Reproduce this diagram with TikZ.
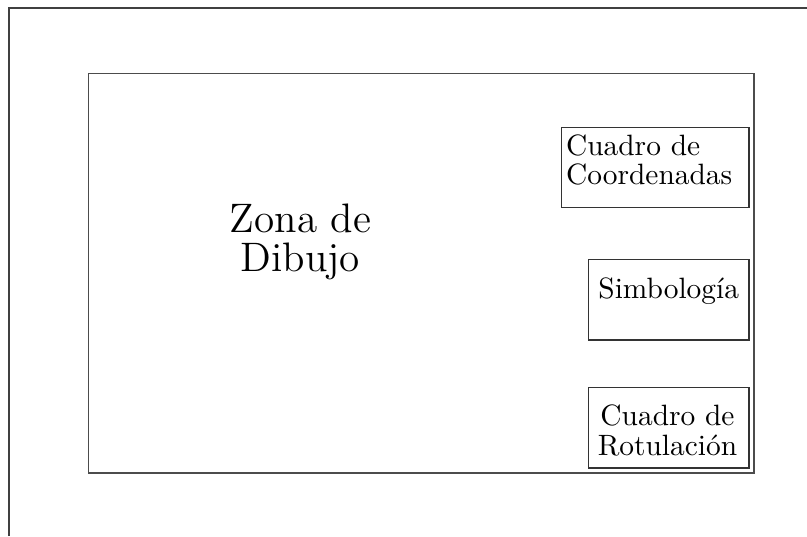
\documentclass[tikz,border=0pt]{standalone}
\begin{document}
\begin{tikzpicture}[x=0.34pt,y=-0.34pt,
  frame/.style={draw=black!75,line width=0.4pt},
  boxnode/.style={draw=black!80,line width=0.4pt,inner sep=0pt},
  lbl/.style={inner sep=0pt,font=\normalsize}]
\useasboundingbox (0,0) rectangle (807,536);
% outer frame (only top and left edges visible)
\coordinate (ftr) at (807,8);
\coordinate (fbl) at (9,536);
\coordinate (ftl) at (9,8);
\draw[frame] (fbl) -- (ftl) -- (ftr);
% drawing zone
\node[boxnode,draw=black!70,minimum width=226.2pt,minimum height=135.9pt] (zona) at (421.35,273.2) {};
\node[inner sep=0pt,font=\fontsize{14}{13.2}\selectfont,align=center] (zonatxt) at (300.5,242) {Zona de\\Dibujo};
% boxes
\node[boxnode,minimum width=63.7pt,minimum height=27.2pt] (coord) at (655.35,167.3) {};
\node[lbl,align=left,anchor=north west] (coordtxt) at (565.5,134) {Cuadro de\\[-2pt]Coordenadas};
\node[boxnode,minimum width=54.6pt,minimum height=27.4pt] (simb) at (668.65,299.65) {};
\node[lbl,anchor=base] (simbtxt) at (668.7,298.3) {Simbología};
\node[boxnode,minimum width=54.6pt,minimum height=27.4pt] (rot) at (668.65,427.65) {};
\node[lbl,align=center,anchor=north] (rottxt) at (667.5,404.6) {Cuadro de\\[-2pt]Rotulación};
\end{tikzpicture}
\end{document}
